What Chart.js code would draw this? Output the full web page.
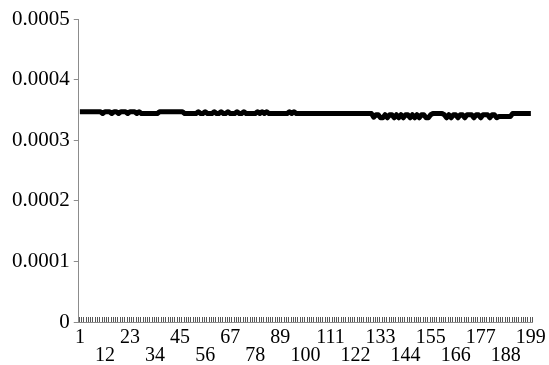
<!DOCTYPE html>
<html>
<head>
<meta charset="utf-8">
<script src="https://cdn.jsdelivr.net/npm/chart.js@4/dist/chart.umd.min.js"></script>
<style>
  html, body { margin: 0; padding: 0; background: #ffffff; }
  #wrap { width: 549px; height: 365px; }
</style>
</head>
<body>
<div id="wrap"><canvas id="c" width="549" height="365"></canvas></div>
<script>
// Categories 1..199
const categories = Array.from({length: 199}, (_, i) => String(i + 1));

// Series values
const seriesValues = [
  0.000347,0.000347,0.000347,0.000347,0.000347,0.000347,0.000347,0.000347,0.000347,0.000347,
  0.000344,0.000347,0.000347,0.000347,0.000344,0.000347,0.000347,0.000344,0.000347,0.000347,
  0.000347,0.000344,0.000347,0.000347,0.000347,0.000344,0.000347,0.000344,0.000344,0.000344,
  0.000344,0.000344,0.000344,0.000344,0.000344,0.000347,0.000347,0.000347,0.000347,0.000347,
  0.000347,0.000347,0.000347,0.000347,0.000347,0.000347,0.000344,0.000344,0.000344,0.000344,
  0.000344,0.000344,0.000347,0.000344,0.000344,0.000347,0.000344,0.000344,0.000344,0.000347,
  0.000344,0.000344,0.000347,0.000344,0.000344,0.000347,0.000344,0.000344,0.000344,0.000347,
  0.000344,0.000344,0.000347,0.000344,0.000344,0.000344,0.000344,0.000344,0.000347,0.000344,
  0.000347,0.000344,0.000347,0.000344,0.000344,0.000344,0.000344,0.000344,0.000344,0.000344,
  0.000344,0.000344,0.000347,0.000344,0.000347,0.000344,0.000344,0.000344,0.000344,0.000344,
  0.000344,0.000344,0.000344,0.000344,0.000344,0.000344,0.000344,0.000344,0.000344,0.000344,
  0.000344,0.000344,0.000344,0.000344,0.000344,0.000344,0.000344,0.000344,0.000344,0.000344,
  0.000344,0.000344,0.000344,0.000344,0.000344,0.000344,0.000344,0.000344,0.000344,0.000338,
  0.000342,0.000342,0.000337,0.000337,0.000342,0.000337,0.000342,0.000342,0.000337,0.000342,
  0.000337,0.000342,0.000337,0.000342,0.000342,0.000337,0.000342,0.000337,0.000342,0.000337,
  0.000342,0.000342,0.000337,0.000337,0.000342,0.000344,0.000344,0.000344,0.000344,0.000344,
  0.000342,0.000337,0.000342,0.000337,0.000342,0.000342,0.000337,0.000342,0.000342,0.000337,
  0.000342,0.000342,0.000342,0.000337,0.000342,0.000342,0.000337,0.000342,0.000342,0.000342,
  0.000337,0.000342,0.000342,0.000337,0.000339,0.000339,0.000339,0.000339,0.000339,0.000339,
  0.000344,0.000344,0.000344,0.000344,0.000344,0.000344,0.000344,0.000344,0.000344
];

// Tick labels
const xTickLabels = ['1','12','23','34','45','56','67','78','89','100','111','122','133','144','155','166','177','188','199'];
const yTickLabels = ['0','0.0001','0.0002','0.0003','0.0004','0.0005'];
const yMin = 0, yMax = 0.0005, yStep = 0.0001;

const AXIS_GRAY = '#8c8c8c';
const FONT = '"Liberation Serif", "Times New Roman", serif';

// Small category tick marks pointing up from the x axis, at category boundaries
const innerTicks = {
  id: 'innerTicks',
  afterDatasetsDraw(chart) {
    const xs = chart.scales.x;
    const ctx = chart.ctx;
    const bottom = chart.chartArea.bottom;
    const step = xs.getPixelForValue(1) - xs.getPixelForValue(0);
    ctx.save();
    ctx.strokeStyle = '#555555';
    ctx.lineWidth = 1;
    ctx.beginPath();
    for (let i = 0; i <= categories.length; i++) {
      const x = Math.round(xs.getPixelForValue(i) - step / 2) + 0.5;
      ctx.moveTo(x, bottom);
      ctx.lineTo(x, bottom - 5);
    }
    ctx.stroke();
    ctx.restore();
  }
};

new Chart(document.getElementById('c'), {
  type: 'line',
  data: {
    labels: categories,
    datasets: [{
      data: seriesValues,
      borderColor: '#000000',
      borderWidth: 5,
      borderJoinStyle: 'round',
      borderCapStyle: 'butt',
      pointRadius: 0,
      tension: 0,
      fill: false
    }]
  },
  options: {
    responsive: false,
    animation: false,
    events: [],
    layout: { padding: { left: 8, right: 17, top: 19, bottom: 0 } },
    plugins: { legend: { display: false }, tooltip: { enabled: false } },
    scales: {
      x: {
        type: 'category',
        offset: true,
        grid: { display: false, drawTicks: true, tickLength: 7, offset: true },
        border: { display: true, color: AXIS_GRAY, width: 1 },
        ticks: {
          autoSkip: false,
          maxRotation: 0,
          minRotation: 0,
          padding: 0,
          color: '#000000',
          font: { family: FONT, size: 20, lineHeight: 0.9 },
          callback: function (val, idx) {
            const lbl = categories[idx];
            const k = xTickLabels.indexOf(lbl);
            if (k < 0) return '';
            return (k % 2 === 0) ? [lbl] : ['', lbl];
          }
        }
      },
      y: {
        min: yMin,
        max: yMax,
        grid: { display: true, drawOnChartArea: false, drawTicks: true, tickLength: 5, color: AXIS_GRAY },
        border: { display: true, color: AXIS_GRAY, width: 1 },
        ticks: {
          stepSize: yStep,
          padding: 4,
          color: '#000000',
          font: { family: FONT, size: 21 },
          callback: function (val) {
            const k = Math.round(val / yStep);
            return yTickLabels[k] !== undefined ? yTickLabels[k] : '';
          }
        }
      }
    }
  },
  plugins: [innerTicks]
});
</script>
</body>
</html>
